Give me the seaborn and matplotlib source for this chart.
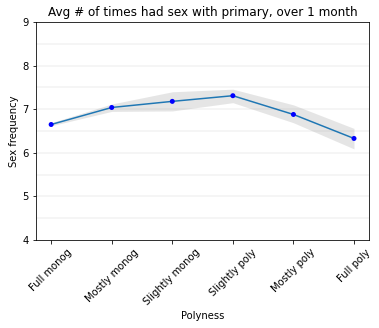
import matplotlib
matplotlib.use("Agg")
import matplotlib.pyplot as plt
import seaborn as sns
import pandas as pd
import numpy as np

categories = ["Full monog", "Mostly monog", "Slightly monog", "Slightly poly", "Mostly poly", "Full poly"]
mean_freq = [6.65, 7.04, 7.18, 7.31, 6.88, 6.33]
ci_low = [6.62, 6.95, 6.96, 7.15, 6.69, 6.09]
ci_high = [6.69, 7.12, 7.40, 7.46, 7.10, 6.56]

df = pd.DataFrame({"Polyness": categories, "freq": mean_freq,
                   "lo": ci_low, "hi": ci_high})
df["pos"] = np.arange(len(df))

plt.rcParams["font.family"] = ["DejaVu Sans"]
fig = plt.figure(figsize=(379 / 72, 328 / 72), dpi=72)
ax = fig.add_axes([0.095, 0.268, 0.879, 0.665])

# horizontal grid every half unit
for y in np.arange(4.5, 9.0, 0.5):
    ax.axhline(y, color="#f3f3f3", lw=1.5, zorder=0)

ax.fill_between(df["pos"], df["lo"], df["hi"], color="gray", alpha=0.2, lw=0, zorder=1)
sns.lineplot(data=df, x="pos", y="freq", ax=ax, color="#1f77b4", lw=1.5, zorder=2)
sns.scatterplot(data=df, x="pos", y="freq", ax=ax, color="blue", s=25, edgecolor="none", zorder=3)

ax.set_ylim(4, 9)
ax.set_xlim(-0.25, 5.25)
ax.set_yticks([4, 5, 6, 7, 8, 9])
ax.set_xticks(df["pos"])
ax.set_xticklabels(categories, rotation=45)
ax.set_xlabel("Polyness")
ax.set_ylabel("Sex frequency")
ax.set_title("Avg # of times had sex with primary, over 1 month", fontsize=12)
for s in ax.spines.values():
    s.set_color("black")

fig.savefig("out.png", dpi=72)
